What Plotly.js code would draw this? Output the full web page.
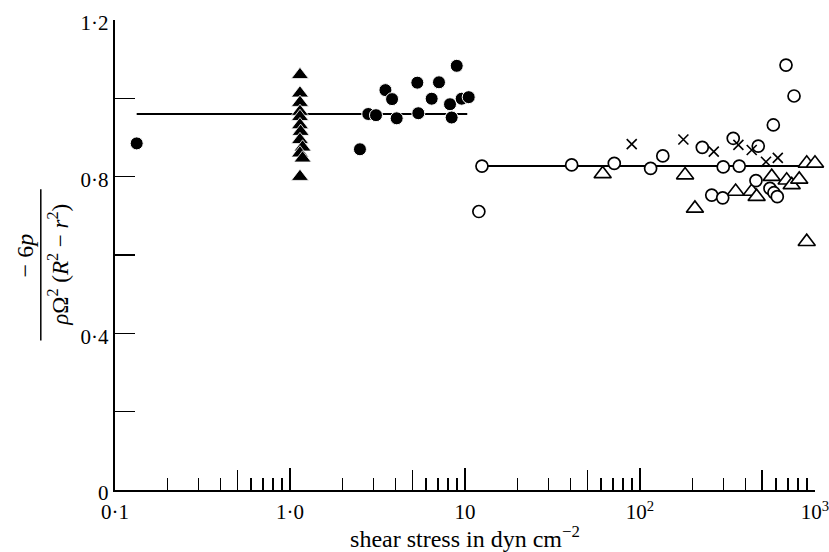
<!DOCTYPE html>
<html>
<head>
<meta charset="utf-8">
<script src="https://cdn.plot.ly/plotly-3.0.1.min.js"></script>
<style>html,body{margin:0;padding:0;background:#fff;}#chart{width:829px;height:552px;}</style>
</head>
<body>
<div id="chart"></div>
<script>
// ---- data ----
const filledCircleX = [0.133, 2.51, 2.80, 3.10, 3.51, 3.83, 4.07, 5.34, 5.41, 6.45, 7.10, 8.21, 8.39, 8.97, 9.57, 10.5];
const filledCircleY = [0.885, 0.870, 0.960, 0.957, 1.021, 0.998, 0.949, 1.040, 0.962, 0.999, 1.041, 0.985, 0.951, 1.083, 0.999, 1.003];

const filledTriX = [1.14, 1.14, 1.14, 1.14, 1.14, 1.14, 1.15, 1.14, 1.18, 1.14, 1.18, 1.14];
const filledTriY = [1.060, 1.013, 0.989, 0.966, 0.953, 0.932, 0.915, 0.894, 0.875, 0.860, 0.847, 0.800];

const openCircleX = [12.0, 12.5, 40.7, 71.3, 115, 135, 227, 257, 297, 299, 341, 369, 460, 474, 553, 578, 583, 609, 683, 759];
const openCircleY = [0.711, 0.827, 0.830, 0.834, 0.821, 0.853, 0.875, 0.753, 0.746, 0.825, 0.898, 0.827, 0.790, 0.878, 0.770, 0.932, 0.759, 0.749, 1.085, 1.006];

const openTriX = [61.2, 181, 206, 352, 435, 464, 566, 689, 736, 813, 897, 1000, 897];
const openTriY = [0.807, 0.804, 0.719, 0.762, 0.762, 0.749, 0.800, 0.791, 0.779, 0.793, 0.834, 0.834, 0.634];

const crossX = [89.7, 177, 264, 365, 435, 525, 613];
const crossY = [0.883, 0.895, 0.864, 0.881, 0.868, 0.838, 0.848];

const lowLineX = [0.133, 10.3];
const lowLineY = [0.960, 0.960];
const highLineX = [12.5, 1000];
const highLineY = [0.827, 0.827];

const xTickVals = [0.1, 1, 10, 100, 1000];
const xTickText = ['0·1', '1·0', '10', '10<sup>2</sup>', '10<sup>3</sup>'];
const xHalfVals = [0.5, 5, 50, 500];
const xMinorVals = [0.2, 0.3, 0.4, 0.6, 0.7, 0.8, 0.9, 2, 3, 4, 6, 7, 8, 9, 20, 30, 40, 60, 70, 80, 90, 200, 300, 400, 600, 700, 800, 900];
const yTickVals = [0, 0.4, 0.8, 1.2];
const yTickText = ['0', '0·4', '0·8', '1·2'];
const yMinorVals = [0.2, 0.6, 1.0];

const FONT = 'Liberation Serif, Times New Roman, serif';
const XRANGE = [-1.0001, 3.0001];

const traces = [
  {x: lowLineX, y: lowLineY, mode: 'lines', line: {color: '#000', width: 2}, hoverinfo: 'skip', cliponaxis: false},
  {x: highLineX, y: highLineY, mode: 'lines', line: {color: '#000', width: 2}, hoverinfo: 'skip', cliponaxis: false},
  {x: filledTriX, y: filledTriY, mode: 'markers', cliponaxis: false,
   marker: {symbol: 'triangle-up', size: 15, color: '#000', line: {color: '#fff', width: 0.8}}},
  {x: filledCircleX, y: filledCircleY, mode: 'markers', cliponaxis: false,
   marker: {symbol: 'circle', size: 13, color: '#000', line: {color: '#fff', width: 1}}},
  {x: openTriX, y: openTriY, mode: 'markers', cliponaxis: false,
   marker: {symbol: 'triangle-up', size: 15, color: '#fff', line: {color: '#000', width: 1.6}}},
  {x: openCircleX, y: openCircleY, mode: 'markers', cliponaxis: false,
   marker: {symbol: 'circle', size: 12, color: '#fff', line: {color: '#000', width: 1.7}}},
  {x: crossX, y: crossY, mode: 'markers', cliponaxis: false,
   marker: {symbol: 'x-thin-open', size: 10, color: '#000', line: {color: '#000', width: 1.6}}},
  // empty trace that carries the secondary tick axis (ticks at 5, 50, ...)
  {x: [], y: [], xaxis: 'x2', mode: 'markers', hoverinfo: 'skip'}
];

const layout = {
  width: 829, height: 552,
  margin: {l: 115, r: 14, t: 20, b: 62},
  paper_bgcolor: '#fff', plot_bgcolor: '#fff',
  showlegend: false,
  font: {family: FONT, color: '#000', size: 21},
  xaxis: {
    type: 'log', range: XRANGE,
    showgrid: false, zeroline: false,
    showline: true, linecolor: '#000', linewidth: 2.2,
    tickmode: 'array', tickvals: xTickVals, ticktext: xTickText,
    ticks: 'inside', ticklen: 22, tickwidth: 1.6, tickcolor: '#000',
    ticklabeloverflow: 'allow', ticklabelstandoff: 2,
    minor: {tickmode: 'array', tickvals: xMinorVals, ticks: 'inside', ticklen: 12, tickwidth: 1.5, tickcolor: '#000', showgrid: false},
    tickfont: {family: FONT, size: 21, color: '#000'},
    title: {text: 'shear stress in dyn cm<sup>−2</sup>', font: {family: FONT, size: 24, color: '#000'}, standoff: 5}
  },
  xaxis2: {
    type: 'log', range: XRANGE, overlaying: 'x', anchor: 'y', side: 'bottom',
    showgrid: false, zeroline: false, showline: false, showticklabels: false,
    tickmode: 'array', tickvals: xHalfVals,
    ticks: 'inside', ticklen: 20, tickwidth: 1.6, tickcolor: '#000'
  },
  yaxis: {
    range: [0, 1.2],
    showgrid: false, zeroline: false,
    showline: true, linecolor: '#000', linewidth: 2.2,
    tickmode: 'array', tickvals: yTickVals, ticktext: yTickText,
    ticks: 'inside', ticklen: 20, tickwidth: 1.6, tickcolor: '#000',
    ticklabelshift: 3,
    minor: {tickmode: 'array', tickvals: yMinorVals, ticks: 'inside', ticklen: 20, tickwidth: 1.6, tickcolor: '#000', showgrid: false},
    tickfont: {family: FONT, size: 21, color: '#000'}
  },
  shapes: [
    {type: 'line', xref: 'paper', yref: 'paper', x0: -0.106, x1: -0.106, y0: 0.318, y1: 0.64, line: {color: '#000', width: 1.5}}
  ],
  annotations: [
    {xref: 'paper', yref: 'paper', x: -0.128, y: 0.50, xanchor: 'center', yanchor: 'middle',
     text: '− 6<i>p</i>', showarrow: false, textangle: -90,
     font: {family: FONT, size: 24, color: '#000'}},
    {xref: 'paper', yref: 'paper', x: -0.081, y: 0.48, xanchor: 'center', yanchor: 'middle',
     text: '<i>ρ</i>Ω<sup>2</sup> (<i>R</i><sup>2</sup> − <i>r</i><sup>2</sup>)', showarrow: false, textangle: -90,
     font: {family: FONT, size: 23, color: '#000'}}
  ]
};

Plotly.newPlot('chart', traces, layout, {displayModeBar: false, staticPlot: true});
</script>
</body>
</html>
